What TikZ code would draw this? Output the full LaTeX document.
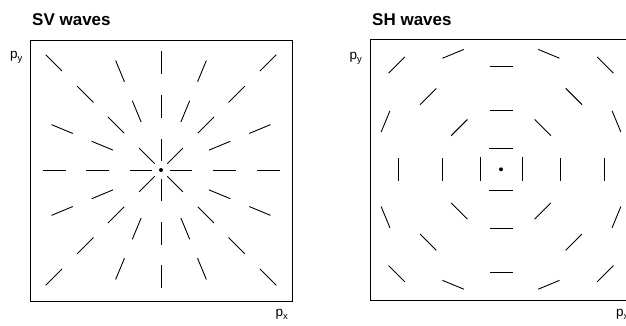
\documentclass[tikz,border=0pt]{standalone}
\usepackage{fontspec}
\setmainfont{Liberation Sans}
\usepackage{xcolor}

\begin{document}
\begin{tikzpicture}[x=1pt, y=1pt, every node/.style={inner sep=0pt, font=\fontsize{13.5}{16}\selectfont}]
  \tikzstyle{panel}=[draw=black, line width=0.8pt]
  \tikzstyle{strokeline}=[line width=0.9pt]
  \tikzstyle{heading}=[anchor=base west, font=\fontsize{17}{20}\selectfont\bfseries]
  \tikzstyle{axislabel}=[anchor=base west]
  \useasboundingbox (0,0) rectangle (626,326);
  \clip (0,0) rectangle (626,326);
  \coordinate (sv) at (161,156);
  \coordinate (sh) at (501,156.7);
  \node[heading] (svtitle) at (32,300) {SV waves};
  \node[heading] (shtitle) at (372,300.3) {SH waves};
  \node[axislabel] (svpy) at (10,267) {p\textsubscript{y}};
  \node[axislabel] (svpx) at (275.5,9) {p\textsubscript{x}};
  \node[axislabel] (shpy) at (349.5,266) {p\textsubscript{y}};
  \node[axislabel] (shpx) at (616,9) {p\textsubscript{x}};
  \draw[panel] (30,25) rectangle (292,286);
  \draw[panel] (370,26) rectangle (632,287);
  % SV waves: strokes point to the centre
  \foreach \a in {0,45,...,315} \draw[strokeline] (sv) ++(\a:9) -- ++(\a:22);
  \foreach \r in {63.5,107} {
    \foreach \a in {0,22.5,...,337.5} \draw[strokeline] (sv) ++(\a:\r-11.5) -- ++(\a:23);
  }
  \foreach \a in {45,135,225,315} \draw[strokeline] (sv) ++(\a:140) -- ++(\a:23);
  \fill (sv) circle (2);
  % SH waves: strokes run round the centre
  \foreach \a in {0,90,180,270} \draw[strokeline] (sh) ++(\a:21) ++(\a+90:12) -- ++(\a-90:24);
  \foreach \r in {59,103} {
    \foreach \a in {0,45,...,315} \draw[strokeline] (sh) ++(\a:\r) ++(\a+90:11.5) -- ++(\a-90:23);
  }
  \foreach \a in {22.5,67.5,...,337.5} \draw[strokeline] (sh) ++(\a:125) ++(\a+90:11.5) -- ++(\a-90:23);
  \foreach \a in {45,135,225,315} \draw[strokeline] (sh) ++(\a:147.5) ++(\a+90:11.5) -- ++(\a-90:23);
  \fill (sh) circle (2);
\end{tikzpicture}
\end{document}
